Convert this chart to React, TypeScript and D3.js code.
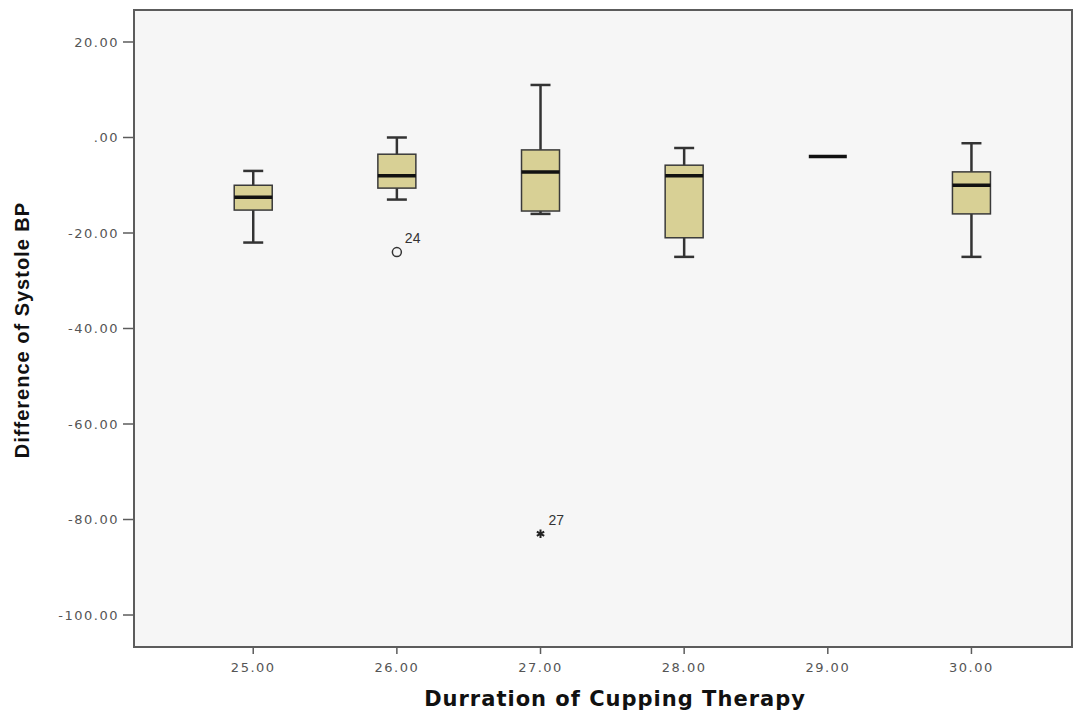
import { useEffect, useRef } from "react";
import * as d3 from "d3";

// SPSS-style boxplot: Difference of Systole BP by duration of cupping therapy
const durations = [25, 26, 27, 28, 29, 30];
const whiskerLow = [-22, -13, -16, -25, -4, -25];
const q1 = [-15.2, -10.6, -15.4, -21, -4, -16];
const medians = [-12.5, -8, -7.2, -8, -4, -10];
const q3 = [-10, -3.5, -2.6, -5.8, -4, -7.2];
const whiskerHigh = [-7, 0, 11, -2.2, -4, -1.2];

const outlierX = [26, 27];
const outlierY = [-24, -83];
const outlierLabels = ["24", "27"];
const outlierKinds = ["circle", "star"];

const yTicks = [20, 0, -20, -40, -60, -80, -100];

export default function App() {
  const ref = useRef<SVGSVGElement>(null);

  useEffect(() => {
    const svg = d3.select(ref.current);
    svg.selectAll("*").remove();

    const width = 1081;
    const height = 715;
    const left = 134;
    const right = 1072;
    const top = 10;
    const bottom = 647;

    svg.attr("width", width).attr("height", height);

    const x = d3.scaleLinear().domain([24.17, 30.7]).range([left, right]);
    const y = d3.scaleLinear().domain([-106.7, 26.7]).range([bottom, top]);

    const fmt = (d: number) => (d === 0 ? ".00" : d.toFixed(2));
    const tickFont = "DejaVu Sans, Verdana, sans-serif";

    // plot background
    svg
      .append("rect")
      .attr("x", left)
      .attr("y", top)
      .attr("width", right - left)
      .attr("height", bottom - top)
      .attr("fill", "#f6f6f6")
      .attr("stroke", "#5c5c5c")
      .attr("stroke-width", 2);

    // y axis ticks + labels
    yTicks.forEach((t) => {
      svg
        .append("line")
        .attr("x1", left - 11)
        .attr("x2", left)
        .attr("y1", y(t))
        .attr("y2", y(t))
        .attr("stroke", "#5c5c5c")
        .attr("stroke-width", 1.5);
      svg
        .append("text")
        .attr("x", left - 15)
        .attr("y", y(t))
        .attr("dy", "0.35em")
        .attr("text-anchor", "end")
        .attr("font-family", tickFont)
        .attr("font-size", 13)
        .attr("letter-spacing", 1.5)
        .attr("fill", "#555")
        .text(fmt(t));
    });

    // x axis ticks + labels
    durations.forEach((d) => {
      svg
        .append("line")
        .attr("x1", x(d))
        .attr("x2", x(d))
        .attr("y1", bottom)
        .attr("y2", bottom + 7)
        .attr("stroke", "#5c5c5c")
        .attr("stroke-width", 1.5);
      svg
        .append("text")
        .attr("x", x(d))
        .attr("y", bottom + 25)
        .attr("text-anchor", "middle")
        .attr("font-family", tickFont)
        .attr("font-size", 13)
        .attr("letter-spacing", 1.5)
        .attr("fill", "#555")
        .text(d.toFixed(2));
    });

    // boxes
    const boxW = 38;
    const capW = 20;
    durations.forEach((d, i) => {
      const cx = x(d);
      const g = svg.append("g");
      if (q3[i] !== q1[i]) {
        g.append("line")
          .attr("x1", cx)
          .attr("x2", cx)
          .attr("y1", y(whiskerHigh[i]))
          .attr("y2", y(q3[i]))
          .attr("stroke", "#333")
          .attr("stroke-width", 2.5);
        g.append("line")
          .attr("x1", cx)
          .attr("x2", cx)
          .attr("y1", y(q1[i]))
          .attr("y2", y(whiskerLow[i]))
          .attr("stroke", "#333")
          .attr("stroke-width", 2.5);
        [whiskerHigh[i], whiskerLow[i]].forEach((v) => {
          g.append("line")
            .attr("x1", cx - capW / 2)
            .attr("x2", cx + capW / 2)
            .attr("y1", y(v))
            .attr("y2", y(v))
            .attr("stroke", "#333")
            .attr("stroke-width", 2.5);
        });
        g.append("rect")
          .attr("x", cx - boxW / 2)
          .attr("y", y(q3[i]))
          .attr("width", boxW)
          .attr("height", y(q1[i]) - y(q3[i]))
          .attr("fill", "#d8d095")
          .attr("stroke", "#3a3a3a")
          .attr("stroke-width", 1.5);
      }
      g.append("line")
        .attr("x1", cx - boxW / 2)
        .attr("x2", cx + boxW / 2)
        .attr("y1", y(medians[i]))
        .attr("y2", y(medians[i]))
        .attr("stroke", "#111")
        .attr("stroke-width", 3.5);
    });

    // outliers
    outlierX.forEach((d, i) => {
      const cx = x(d);
      const cy = y(outlierY[i]);
      if (outlierKinds[i] === "circle") {
        svg
          .append("circle")
          .attr("cx", cx)
          .attr("cy", cy)
          .attr("r", 4.5)
          .attr("fill", "none")
          .attr("stroke", "#333")
          .attr("stroke-width", 1.5);
      } else {
        svg
          .append("path")
          .attr("transform", `translate(${cx},${cy})`)
          .attr("d", d3.symbol(d3.symbolAsterisk, 50)())
          .attr("fill", "none")
          .attr("stroke", "#222")
          .attr("stroke-width", 2);
      }
      svg
        .append("text")
        .attr("x", cx + 8)
        .attr("y", cy - 9)
        .attr("font-family", "Liberation Sans, Arial, sans-serif")
        .attr("font-size", 14)
        .attr("fill", "#333")
        .text(outlierLabels[i]);
    });

    // axis titles
    svg
      .append("text")
      .attr("x", 615)
      .attr("y", 706)
      .attr("text-anchor", "middle")
      .attr("font-family", "DejaVu Sans, Verdana, sans-serif")
      .attr("font-weight", "bold")
      .attr("font-size", 21)
      .attr("letter-spacing", 1)
      .attr("fill", "#111")
      .text("Durration of Cupping Therapy");

    svg
      .append("text")
      .attr("transform", `translate(29,330) rotate(-90)`)
      .attr("text-anchor", "middle")
      .attr("font-family", "Liberation Sans, Arial, sans-serif")
      .attr("font-weight", "bold")
      .attr("font-size", 20)
      .attr("letter-spacing", 1)
      .attr("fill", "#111")
      .text("Difference of Systole BP");
  }, []);

  return (
    <svg
      ref={ref}
      style={{ position: "absolute", left: 0, top: 0, background: "#fff" }}
    ></svg>
  );
}
